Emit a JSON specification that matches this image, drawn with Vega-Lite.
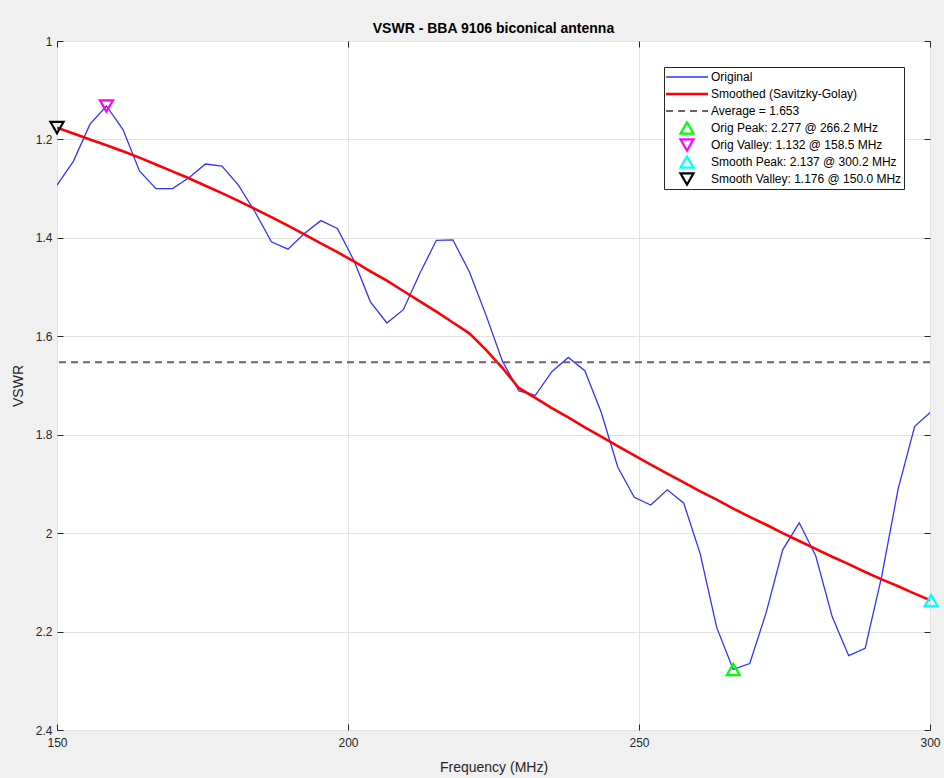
{
  "$schema": "https://vega.github.io/schema/vega-lite/v6.json",
  "width": 873,
  "height": 689,
  "autosize": {"type": "none"},
  "padding": {"left": 57, "top": 41, "right": 14, "bottom": 48},
  "background": "#f0f0f0",
  "title": {"text": "VSWR - BBA 9106 biconical antenna", "fontSize": 14, "fontWeight": "bold", "font": "Liberation Sans", "color": "#000000", "offset": -1},
  "config": {
    "view": {"fill": "white", "stroke": "#262626", "strokeWidth": 1},
    "font": "Liberation Sans",
    "axis": {"labelFont": "Liberation Sans", "titleFont": "Liberation Sans", "labelColor": "#262626", "titleColor": "#262626", "labelFontSize": 12, "titleFontSize": 14, "titleFontWeight": "normal", "domainColor": "#262626", "tickColor": "#262626", "gridColor": "#e3e3e3", "gridWidth": 1, "labelFlush": false}
  },
  "datasets": {
    "curve": [
      {"f": 150.00, "orig": 1.293, "smooth": 1.176},
      {"f": 152.83, "orig": 1.244, "smooth": 1.188},
      {"f": 155.67, "orig": 1.169, "smooth": 1.200},
      {"f": 158.50, "orig": 1.132, "smooth": 1.212},
      {"f": 161.34, "orig": 1.180, "smooth": 1.224},
      {"f": 164.17, "orig": 1.264, "smooth": 1.237},
      {"f": 167.00, "orig": 1.300, "smooth": 1.251},
      {"f": 169.84, "orig": 1.300, "smooth": 1.265},
      {"f": 172.67, "orig": 1.278, "smooth": 1.279},
      {"f": 175.51, "orig": 1.250, "smooth": 1.294},
      {"f": 178.34, "orig": 1.254, "smooth": 1.309},
      {"f": 181.17, "orig": 1.293, "smooth": 1.325},
      {"f": 184.01, "orig": 1.347, "smooth": 1.341},
      {"f": 186.84, "orig": 1.408, "smooth": 1.358},
      {"f": 189.68, "orig": 1.423, "smooth": 1.375},
      {"f": 192.51, "orig": 1.391, "smooth": 1.393},
      {"f": 195.34, "orig": 1.365, "smooth": 1.411},
      {"f": 198.18, "orig": 1.381, "smooth": 1.429},
      {"f": 201.01, "orig": 1.446, "smooth": 1.448},
      {"f": 203.85, "orig": 1.530, "smooth": 1.468},
      {"f": 206.68, "orig": 1.573, "smooth": 1.487},
      {"f": 209.51, "orig": 1.546, "smooth": 1.508},
      {"f": 212.35, "orig": 1.472, "smooth": 1.529},
      {"f": 215.18, "orig": 1.405, "smooth": 1.550},
      {"f": 218.02, "orig": 1.404, "smooth": 1.572},
      {"f": 220.85, "orig": 1.469, "smooth": 1.594},
      {"f": 223.68, "orig": 1.556, "smooth": 1.627},
      {"f": 226.52, "orig": 1.650, "smooth": 1.664},
      {"f": 229.35, "orig": 1.711, "smooth": 1.705},
      {"f": 232.19, "orig": 1.720, "smooth": 1.725},
      {"f": 235.02, "orig": 1.672, "smooth": 1.746},
      {"f": 237.85, "orig": 1.643, "smooth": 1.765},
      {"f": 240.69, "orig": 1.670, "smooth": 1.785},
      {"f": 243.52, "orig": 1.755, "smooth": 1.804},
      {"f": 246.36, "orig": 1.866, "smooth": 1.823},
      {"f": 249.19, "orig": 1.927, "smooth": 1.842},
      {"f": 252.02, "orig": 1.943, "smooth": 1.861},
      {"f": 254.86, "orig": 1.912, "smooth": 1.879},
      {"f": 257.69, "orig": 1.939, "smooth": 1.897},
      {"f": 260.52, "orig": 2.042, "smooth": 1.915},
      {"f": 263.36, "orig": 2.192, "smooth": 1.932},
      {"f": 266.19, "orig": 2.277, "smooth": 1.950},
      {"f": 269.03, "orig": 2.265, "smooth": 1.967},
      {"f": 271.86, "orig": 2.161, "smooth": 1.983},
      {"f": 274.69, "orig": 2.034, "smooth": 2.000},
      {"f": 277.53, "orig": 1.979, "smooth": 2.016},
      {"f": 280.36, "orig": 2.046, "smooth": 2.032},
      {"f": 283.20, "orig": 2.170, "smooth": 2.048},
      {"f": 286.03, "orig": 2.249, "smooth": 2.063},
      {"f": 288.86, "orig": 2.234, "smooth": 2.079},
      {"f": 291.70, "orig": 2.088, "smooth": 2.094},
      {"f": 294.53, "orig": 1.910, "smooth": 2.108},
      {"f": 297.37, "orig": 1.783, "smooth": 2.123},
      {"f": 300.20, "orig": 1.753, "smooth": 2.137}
    ],
    "markers": [
      {"series": "Orig Peak: 2.277 @ 266.2 MHz", "f": 266.19, "v": 2.277},
      {"series": "Orig Valley: 1.132 @ 158.5 MHz", "f": 158.50, "v": 1.132},
      {"series": "Smooth Peak: 2.137 @ 300.2 MHz", "f": 300.20, "v": 2.137},
      {"series": "Smooth Valley: 1.176 @ 150.0 MHz", "f": 150.00, "v": 1.176}
    ],
    "avg": [{"v": 1.653}]
  },
  "resolve": {"axis": {"x": "independent", "y": "independent"}},
  "layer": [
    {
      "data": {"name": "curve"},
      "mark": {"type": "line", "strokeWidth": 1.3, "clip": true},
      "encoding": {
        "x": {"field": "f", "type": "quantitative", "scale": {"domain": [150, 300], "nice": false, "zero": false},
              "axis": {"orient": "bottom", "values": [150, 200, 250, 300], "title": "Frequency (MHz)", "titlePadding": 12, "tickSize": -6, "labelPadding": 13, "grid": true, "domain": false}},
        "y": {"field": "orig", "type": "quantitative", "scale": {"domain": [1, 2.4], "reverse": true, "nice": false, "zero": false},
              "axis": {"orient": "left", "values": [1, 1.2, 1.4, 1.6, 1.8, 2, 2.2, 2.4], "format": "~g", "title": "VSWR", "titlePadding": 10, "tickSize": -6, "labelPadding": 11, "grid": true, "domain": false}},
        "color": {"datum": "Original", "type": "nominal", "title": null,
          "scale": {"domain": ["Original", "Smoothed (Savitzky-Golay)", "Average = 1.653", "Orig Peak: 2.277 @ 266.2 MHz", "Orig Valley: 1.132 @ 158.5 MHz", "Smooth Peak: 2.137 @ 300.2 MHz", "Smooth Valley: 1.176 @ 150.0 MHz"],
                    "range": ["#3333ff", "#ff0000", "#666666", "#00ff00", "#ff00ff", "#00ffff", "#000000"]},
          "legend": {"orient": "none", "legendX": 607, "legendY": 26, "title": null, "padding": 2, "strokeColor": "#262626", "fillColor": "white", "labelFontSize": 12, "labelFont": "Liberation Sans", "labelColor": "#000000", "labelLimit": 400, "symbolSize": 170, "rowPadding": 1, "clipHeight": 16, "symbolStrokeWidth": 2,
            "encode": {
              "symbols": {"update": {
                "x": {"value": 21},
                "shape": {"signal": "indexof(['Original','Smoothed (Savitzky-Golay)','Average = 1.653'], datum.value) >= 0 ? 'stroke' : (indexof(datum.value, 'Peak') >= 0 ? 'triangle-up' : 'triangle-down')"},
                "size": {"signal": "indexof(['Original','Smoothed (Savitzky-Golay)','Average = 1.653'], datum.value) >= 0 ? 1764 : 170"},
                "strokeWidth": {"signal": "datum.value == 'Original' ? 1.3 : (datum.value == 'Smoothed (Savitzky-Golay)' ? 2.6 : 2.2)"},
                "strokeDash": {"signal": "datum.value == 'Average = 1.653' ? [7, 5] : [1, 0]"},
                "stroke": {"scale": "color", "field": "value"},
                "fill": {"value": "transparent"},
                "opacity": {"value": 1}
              }},
              "labels": {"update": {"x": {"value": 45}}}
            }}}
      }
    },
    {
      "data": {"name": "curve"},
      "mark": {"type": "line", "strokeWidth": 2.6, "clip": true},
      "encoding": {
        "x": {"field": "f", "type": "quantitative", "axis": {"orient": "top", "values": [150, 200, 250, 300], "labels": false, "title": null, "grid": false, "domain": false, "tickSize": -6}},
        "y": {"field": "smooth", "type": "quantitative", "axis": {"orient": "right", "values": [1, 1.2, 1.4, 1.6, 1.8, 2, 2.2, 2.4], "labels": false, "title": null, "grid": false, "domain": false, "tickSize": -6}},
        "color": {"datum": "Smoothed (Savitzky-Golay)", "type": "nominal", "title": null}
      }
    },
    {
      "data": {"name": "avg"},
      "mark": {"type": "rule", "strokeWidth": 2, "strokeDash": [7, 5]},
      "encoding": {
        "y": {"field": "v", "type": "quantitative", "axis": null},
        "color": {"datum": "Average = 1.653", "type": "nominal", "title": null}
      }
    },
    {
      "data": {"name": "markers"},
      "mark": {"type": "point", "filled": false, "strokeWidth": 2.2, "size": 170, "opacity": 1},
      "encoding": {
        "x": {"field": "f", "type": "quantitative", "axis": null},
        "y": {"field": "v", "type": "quantitative", "axis": null},
        "color": {"field": "series", "type": "nominal", "title": null},
        "shape": {"field": "series", "type": "nominal", "legend": null,
          "scale": {"domain": ["Orig Peak: 2.277 @ 266.2 MHz", "Orig Valley: 1.132 @ 158.5 MHz", "Smooth Peak: 2.137 @ 300.2 MHz", "Smooth Valley: 1.176 @ 150.0 MHz"],
                    "range": ["triangle-up", "triangle-down", "triangle-up", "triangle-down"]}}
      }
    }
  ]
}
